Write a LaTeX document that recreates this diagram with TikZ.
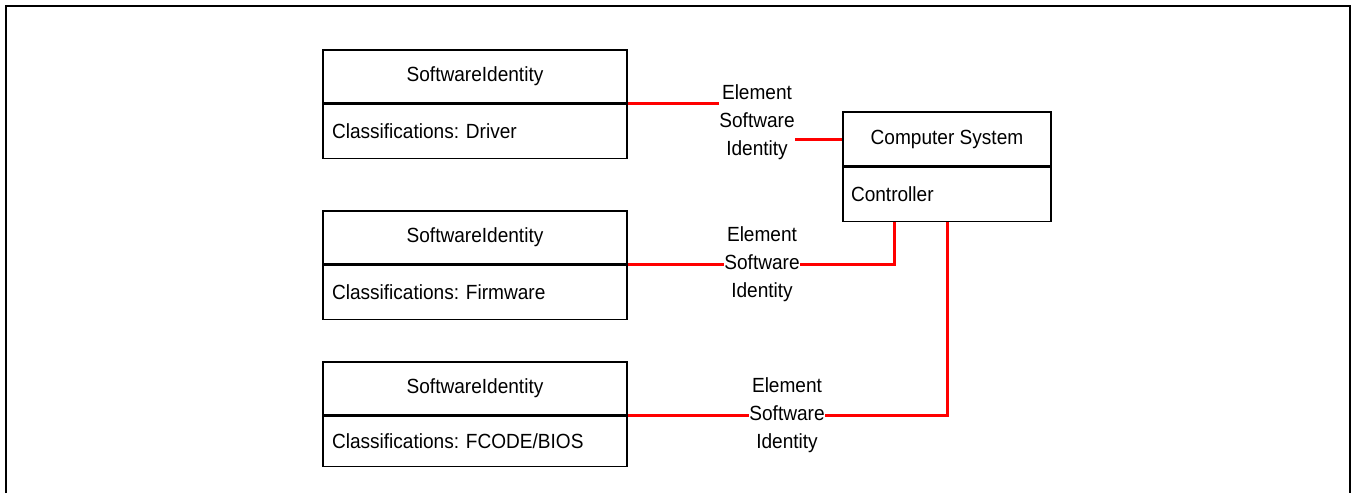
\documentclass[tikz,border=0pt]{standalone}
\usepackage{fontspec}
\setmainfont{Liberation Sans}[FakeStretch=0.93]
\usetikzlibrary{backgrounds,calc}
\frenchspacing
\begin{document}
\begin{tikzpicture}[x=1pt,y=-1pt,
  every node/.style={font=\fontsize{20.5}{28}\selectfont},
  titlebox/.style={draw, line width=1.6pt, minimum width=304pt, minimum height=53pt, inner sep=0pt},
  attrbox/.style={draw, line width=1.6pt, minimum width=304pt, minimum height=54pt, text width=286pt, align=left, inner sep=0pt, anchor=north},
  cstitle/.style={draw, line width=1.6pt, minimum width=208pt, minimum height=54pt, inner sep=0pt},
  csattr/.style={draw, line width=1.6pt, minimum width=208pt, minimum height=54pt, text width=192pt, align=left, inner sep=0pt, anchor=north},
  assoc/.style={fill=white, inner sep=0pt, align=center},
  conn/.style={draw=red, line width=3pt},
  frame/.style={line width=2pt}]
\useasboundingbox (0,0) rectangle (1352,493);
\draw[frame] (6,493) -- (6,6) -- (1350,6) -- (1350,493);

% class boxes
\node[titlebox] (s1t) at (475,76.5) {SoftwareIdentity};
\node[attrbox] (s1b) at (s1t.south) {Classifications: Driver};
\node[titlebox] (s2t) at (475,237.5) {SoftwareIdentity};
\node[attrbox] (s2b) at (s2t.south) {Classifications: Firmware};
\node[titlebox] (s3t) at (475,388.5) {SoftwareIdentity};
\node[attrbox, minimum height=50pt] (s3b) at (s3t.south) {Classifications: FCODE/BIOS};

\node[cstitle] (cst) at (947,139) {Computer System};
\node[csattr] (csb) at (cst.south) {Controller};

% association labels
\node[assoc] (l1) at (757,122) {Element\\Software\\Identity};
\node[assoc] (l2) at (762,264) {Element\\Software\\Identity};
\node[assoc] (l3) at (787,415) {Element\\Software\\Identity};

\coordinate (c2end) at ($(csb.south west)!0.25!(csb.south east)$);

\begin{pgfonlayer}{background}
\draw[conn] (s1t.south east) -| (l1.center) |- (cst.west);
\draw[conn] (s2t.south east) -| (c2end);
\draw[conn] (s3t.south east) -| (csb.south);
\end{pgfonlayer}
\end{tikzpicture}
\end{document}
